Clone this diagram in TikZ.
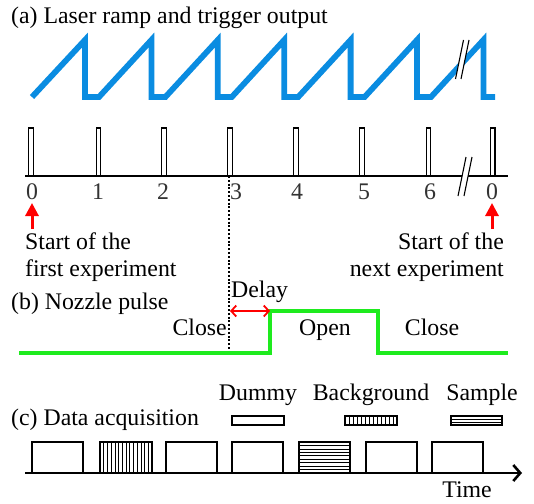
\documentclass[tikz,border=0pt]{standalone}
\usepackage{fontspec}
\setmainfont{Liberation Serif}
\usetikzlibrary{arrows.meta}
\definecolor{rampblue}{RGB}{10,140,225}
\definecolor{nozgreen}{RGB}{30,235,30}
\tikzset{
  txt/.style={inner sep=0pt, font=\fontsize{23.8}{28}\selectfont},
  ramp/.style={draw=rampblue, line width=5.8pt, line join=miter, miter limit=4},
  pulsebox/.style={draw=black, line width=1.2pt, fill=white},
  axisline/.style={draw=black, line width=1.4pt},
  redarrow/.style={draw=red, line width=3pt, -{Triangle[length=13pt,width=13pt]}},
  acqbox/.style={draw=black, line width=1.3pt},
  hatch/.style={draw=black, line width=0.7pt},
}
\begin{document}
\begin{tikzpicture}[x=1pt,y=-1pt]
\useasboundingbox[fill=white] (0,0) rectangle (534,503);

% (a) titles
\node[txt, anchor=base west] (ta) at (11,24) {(a) Laser ramp and trigger output};

% sawtooth
\draw[ramp] (32,97) -- (85,40) -- (85,97) -- (99,97)
  -- (151.4,40) -- (151.4,97) -- (165.4,97)
  -- (217.8,40) -- (217.8,97) -- (231.8,97)
  -- (284.2,40) -- (284.2,97) -- (298.2,97)
  -- (350.6,40) -- (350.6,97) -- (364.6,97)
  -- (417,40) -- (417,97) -- (431,97)
  -- (483.4,40) -- (483.4,97) -- (495,97);
% break on ramp
\fill[white] (455.5,79) -- (463.5,40) -- (469,40) -- (461,79) -- cycle;
\draw[black, line width=1.1pt] (455.5,79) -- (463.5,40);
\draw[black, line width=1.1pt] (461,79) -- (469,40);

% trigger baseline and pulses
\coordinate (bl0) at (25,176);
\coordinate (bl1) at (508,176);
\draw[axisline] (bl0) -- (bl1);
\foreach \c in {31, 98.5, 164, 230, 296, 362, 428.3, 492.7}{
  \draw[pulsebox] (\c-2.2,176) rectangle (\c+2.2,128);
}
% axis break
\fill[white] (458,196) -- (466,157) -- (472,157) -- (464,196) -- cycle;
\draw[black, line width=1.1pt] (458,196) -- (466,157);
\draw[black, line width=1.1pt] (464,196) -- (472,157);

% numbers
\foreach \x/\n/\lab in {32/n0/0, 98/n1/1, 163/n2/2, 236/n3/3, 297/n4/4, 364/n5/5, 430/n6/6, 492/n7/0}{
  \node[txt, anchor=base, text=black!80] (\n) at (\x,199) {\lab};
}

% red arrows
\coordinate (ra0) at (32,229);
\coordinate (ra1) at (32,203);
\draw[redarrow] (ra0) -- (ra1);
\coordinate (rb0) at (492,229);
\coordinate (rb1) at (492,203);
\draw[redarrow] (rb0) -- (rb1);

\node[txt, anchor=base west] (s1) at (25,249) {Start of the};
\node[txt, anchor=base west] (s2) at (25,276) {first experiment};
\node[txt, anchor=base east] (s3) at (504,249) {Start of the};
\node[txt, anchor=base east] (s4) at (504,276) {next experiment};

% dotted line
\coordinate (dt0) at (229,176);
\coordinate (dt1) at (229,354);
\draw[black, line width=1.2pt, dash pattern=on 2pt off 1.8pt] (dt0) -- (dt1);

% (b)
\node[txt, anchor=base west] (tb) at (11,309) {(b) Nozzle pulse};
\node[txt, anchor=base west] (delay) at (231,297) {Delay};
\draw[nozgreen, line width=3.2pt, line join=miter] (19,353) -- (270,353) -- (270,311) -- (378,311) -- (378,353) -- (508,353);
\coordinate (d0) at (230,311);
\coordinate (d1) at (270,311);
\draw[red, line width=1.8pt, {Straight Barb[length=5pt,width=11pt]}-{Straight Barb[length=5pt,width=11pt]}] (d0) -- (d1);
\node[txt, anchor=base east] (close1) at (227,335) {Close};
\node[txt, anchor=base] (open) at (325,335) {Open};
\node[txt, anchor=base] (close2) at (432,335) {Close};

% (c)
\node[txt, anchor=base west] (tc) at (11,425) {(c) Data acquisition};
\node[txt, anchor=base] (ldum) at (258,400) {Dummy};
\node[txt, anchor=base] (lbg) at (371,400) {Background};
\node[txt, anchor=base] (lsam) at (482,400) {Sample};
\draw[acqbox] (232,416) rectangle (284,425);
\draw[acqbox] (345,416) rectangle (397,425);
\foreach \i in {1,...,12}{ \draw[hatch] (345+4*\i,416) -- (345+4*\i,425); }
\draw[acqbox] (451,416) rectangle (502,425);
\draw[hatch] (451,419.2) -- (502,419.2);
\draw[hatch] (451,422.1) -- (502,422.1);

% data boxes
\foreach \a/\b in {32/83, 100/152, 166/217, 232/283, 299/350, 366/417, 432/483}{
  \draw[acqbox] (\a,473) -- (\a,442) -- (\b,442) -- (\b,473);
}
\foreach \i in {1,...,13}{ \draw[hatch] (100+3.72*\i,442) -- (100+3.72*\i,473); }
\foreach \i in {1,...,8}{ \draw[hatch] (299,442+3.45*\i) -- (350,442+3.45*\i); }

\coordinate (ax0) at (25,473);
\coordinate (ax1) at (522,473);
\draw[black, line width=2.6pt, -{Straight Barb[length=7pt,width=16pt]}] (ax0) -- (ax1);
\node[txt, anchor=base] (time) at (467,497) {Time};
\end{tikzpicture}
\end{document}
